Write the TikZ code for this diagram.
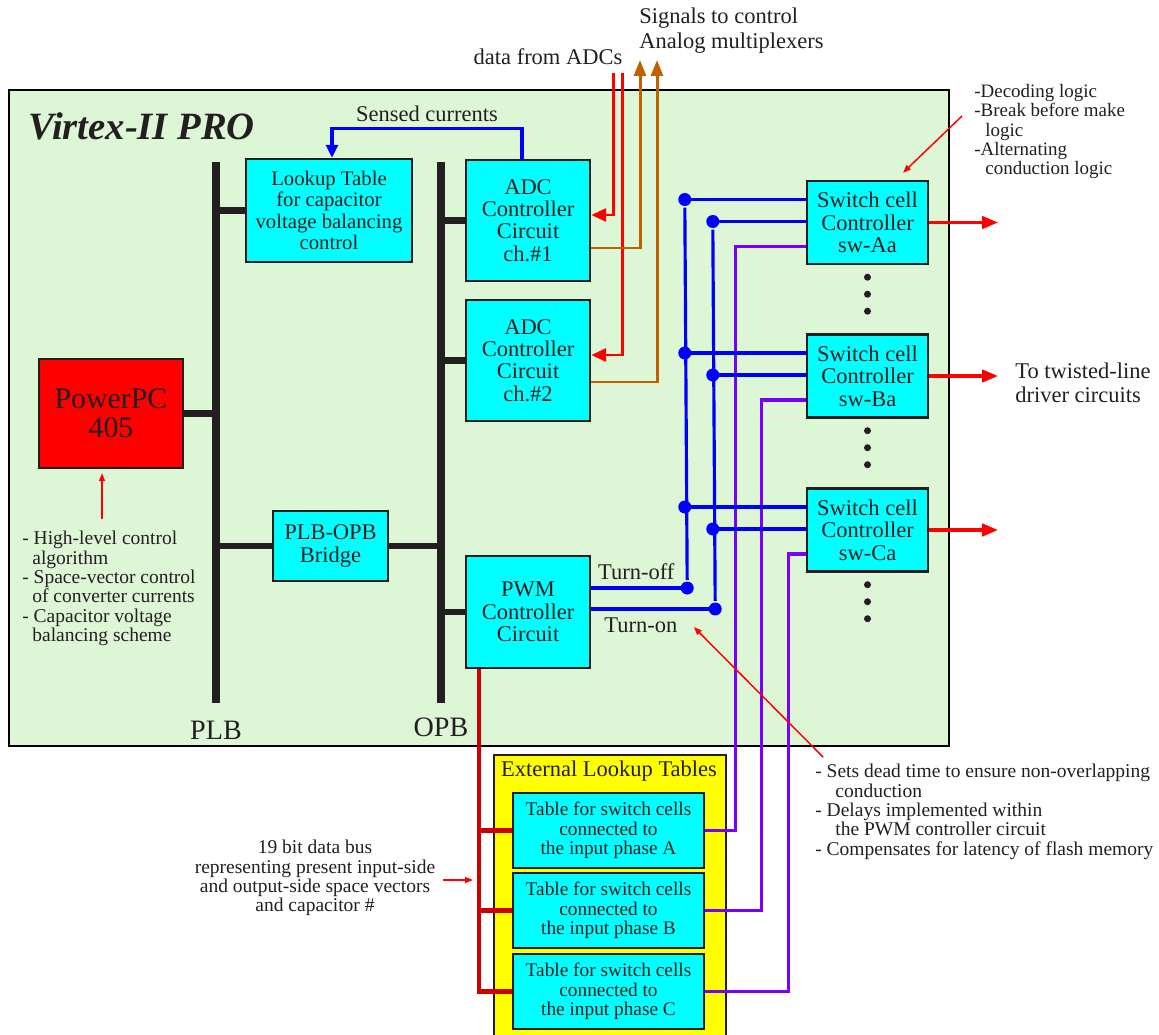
\documentclass[tikz,border=0pt]{standalone}
\usepackage{fontspec}
\setmainfont{Liberation Serif}
\usetikzlibrary{arrows.meta,calc,positioning}

\definecolor{chipgreen}{RGB}{221,246,214}
\definecolor{inkgray}{RGB}{35,31,32}
\definecolor{boxcyan}{RGB}{0,255,255}
\definecolor{pcred}{RGB}{255,0,0}
\definecolor{extyellow}{RGB}{255,255,0}
\definecolor{muxorange}{RGB}{192,96,0}
\definecolor{selviolet}{RGB}{120,0,255}
\definecolor{busred}{RGB}{204,0,0}

\begin{document}
\begin{tikzpicture}[
            x=0.02cm, y=-0.02cm,
            >=Latex,
            blk/.style={draw=inkgray, line width=1.4pt, fill=boxcyan, inner sep=0pt, align=center, text=inkgray, font=\fontsize{12.8}{12.7}\selectfont},
            tbl/.style={blk, minimum width=3.82cm, minimum height=1.5cm, font=\fontsize{11}{11}\selectfont},
            swc/.style={blk, minimum width=2.42cm, minimum height=1.66cm},
            bus/.style={line width=5.1pt, draw=inkgray},
            stub/.style={line width=3.8pt, draw=inkgray},
            adcflow/.style={line width=1.7pt, draw=pcred, -{Triangle[length=0.3cm, width=0.26cm]}},
            muxflow/.style={line width=1.7pt, draw=muxorange, -{Triangle[length=0.32cm, width=0.24cm]}},
            ctl/.style={line width=1.8pt, draw=blue},
            sel/.style={line width=1.8pt, draw=selviolet},
            lutbus/.style={line width=2.5pt, draw=busred},
            drive/.style={line width=2.2pt, draw=pcred, -{Triangle[length=0.32cm, width=0.24cm]}},
            note/.style={line width=0.85pt, draw=pcred, -{Triangle[length=0.16cm, width=0.12cm]}},
            dot/.style={circle, fill=blue, inner sep=0pt, minimum size=0.26cm},
            lab/.style={text=inkgray, inner sep=0pt, font=\fontsize{12.8}{12.8}\selectfont},
            txt/.style={text=inkgray, inner sep=0pt, align=left, font=\fontsize{11.1}{11}\selectfont}
        ]
        \useasboundingbox (0,0) rectangle (1159,1034);
        \fill[white] (0,0) rectangle (1159,1034);

        % chip
        \node[draw=black, line width=1.4pt, fill=chipgreen, minimum width=18.8cm, minimum height=13.12cm, inner sep=0pt] (chip) at (479,418) {};
        \node[anchor=base west, inner sep=0pt, text=inkgray, font=\fontsize{22}{22}\selectfont\bfseries\itshape] (chipname) at (28,139) {Virtex-II PRO};

        % busses
        \coordinate (plbtop) at (216,162);
        \coordinate (plbbot) at (216,703);
        \coordinate (opbtop) at (441,162);
        \coordinate (opbbot) at (441,703);
        \node[lab, font=\fontsize{16}{16}\selectfont] (plblab) at (216,730) {PLB};
        \node[lab, font=\fontsize{16}{16}\selectfont] (opblab) at (441,727) {OPB};

        % blocks on the busses
        \node[blk, fill=pcred, minimum width=2.88cm, minimum height=2.18cm, font=\fontsize{17}{16.5}\selectfont] (ppc) at (111,413.5) {PowerPC\\405};
        \node[blk, minimum width=3.32cm, minimum height=2.06cm, font=\fontsize{11.8}{12.2}\selectfont] (lut) at (329,210.5) {Lookup Table\\for capacitor\\voltage balancing\\control};
        \node[blk, minimum width=2.48cm, minimum height=2.42cm] (adcA) at (528,220.5) {ADC\\Controller\\Circuit\\ch.\#1};
        \node[blk, minimum width=2.48cm, minimum height=2.42cm] (adcB) at (528,360.5) {ADC\\Controller\\Circuit\\ch.\#2};
        \node[blk, minimum width=2.3cm, minimum height=1.4cm] (bridge) at (330.5,546) {PLB-OPB\\Bridge};
        \node[blk, minimum width=2.48cm, minimum height=2.24cm] (pwm) at (528,612) {PWM\\Controller\\Circuit};

        % switch cells
        \node[swc] (swA) at (867.5,222.5) {Switch cell\\Controller\\sw-Aa};
        \node[swc] (swB) at (867.5,376) {Switch cell\\Controller\\sw-Ba};
        \node[swc] (swC) at (867.5,530) {Switch cell\\Controller\\sw-Ca};

        % external tables
        \node[draw=inkgray, line width=1.1pt, fill=extyellow, minimum width=4.64cm, minimum height=6cm, inner sep=0pt, anchor=north west] (ext) at (493,754) {};
        \node[lab] (exttitle) at (609,771) {External Lookup Tables};
        \node[tbl] (tabA) at (608.5,830.5) {Table for switch cells\\connected to\\the input phase A};
        \node[tbl] (tabB) at (608.5,910.5) {Table for switch cells\\connected to\\the input phase B};
        \node[tbl] (tabC) at (608.5,991.5) {Table for switch cells\\connected to\\the input phase C};

        % bus lines
        \draw[stub] (ppc.east) -- (ppc.east -| plbtop);
        \draw[stub] (lut.west) -- (lut.west -| plbtop);
        \draw[stub] (bridge.west) -- (bridge.west -| plbtop);
        \draw[stub] (bridge.east) -- (bridge.east -| opbtop);
        \draw[stub] (adcA.west) -- (adcA.west -| opbtop);
        \draw[stub] (adcB.west) -- (adcB.west -| opbtop);
        \draw[stub] (pwm.west) -- (pwm.west -| opbtop);
        \draw[bus] (plbtop) -- (plbbot);
        \draw[bus] (opbtop) -- (opbbot);

        % ADC signals
        \coordinate (adcin1) at (613,73);
        \coordinate (adcin2) at (622,73);
        \coordinate (muxout1) at (640,60);
        \coordinate (muxout2) at (657,60);
        \node[lab] (adcdata) at (548,57) {data from ADCs};
        \node[lab, anchor=north west, align=left, font=\fontsize{12.8}{14.2}\selectfont] (muxsig) at (639,8) {Signals to control\\Analog multiplexers};
        \draw[adcflow] (adcin1) |- ([shift={(0,-5.5)}]adcA.east);
        \draw[adcflow] (adcin2) |- ([shift={(0,-5.5)}]adcB.east);
        \draw[muxflow] ([shift={(0,27.5)}]adcA.east) -| (muxout1);
        \draw[muxflow] ([shift={(0,21.5)}]adcB.east) -| (muxout2);
        \draw[ctl, -{Triangle[length=0.26cm, width=0.24cm]}] ([shift={(-6,0)}]adcA.north) |- node[lab, above=3pt, pos=0.75] (sensed) {Sensed currents} ([shift={(3,-29)}]lut.north) -- ([shift={(3,0)}]lut.north);

        % PWM to switch cells
        \draw[ctl] ([shift={(0,-24)}]pwm.east) -- node[lab, above=4pt, pos=0.47] (turnoff) {Turn-off} ++(96,0) node[dot] (offP) {};
        \draw[ctl] ([shift={(0,-3)}]pwm.east) -- node[lab, below=4pt, pos=0.4] (turnon) {Turn-on} ++(124,0) node[dot] (onP) {};
        \foreach \row/\sdx in {A/70, B/44, C/17} {
            \draw[ctl] ([shift={(0,-23)}]sw\row.west) -- ++(-121,0) node[dot] (off\row) {};
            \draw[ctl] ([shift={(0,-1)}]sw\row.west) -- ++(-93,0) node[dot] (on\row) {};
            \draw[sel] ([shift={(0,24)}]sw\row.west) -- ++(-\sdx,0) |- (tab\row.east);
            \draw[drive] (sw\row.east) -- ++(69,0);
            \foreach \k in {0,1,2}
                \fill[inkgray] ($(sw\row.south)+(0,{12+17*\k})$) circle (0.07cm);
        }
        \draw[ctl] (offA) -- (offP);
        \draw[ctl] (onA) -- (onP);
        \node[lab, anchor=north west, align=left, font=\fontsize{12.8}{13.6}\selectfont] (twisted) at (1015,363) {To twisted-line\\driver circuits};

        % lookup bus
        \coordinate (lbus) at ([shift={(-49,0)}]pwm.south);
        \draw[lutbus] (lbus) |- (tabC.west);
        \draw[lutbus] (tabA.west -| lbus) -- (tabA.west);
        \draw[lutbus] (tabB.west -| lbus) -- (tabB.west);

        % notes
        \node[txt, anchor=north west] (ppcnote) at (22,531) {- High-level control\\\hspace*{0.2cm}algorithm\\- Space-vector control\\\hspace*{0.2cm}of converter currents\\- Capacitor voltage\\\hspace*{0.2cm}balancing scheme};
        \node[txt, anchor=north west, font=\fontsize{10.8}{11}\selectfont] (swnote) at (974,84) {-Decoding logic\\-Break before make\\\hspace*{0.22cm}logic\\-Alternating\\\hspace*{0.22cm}conduction logic};
        \node[txt, anchor=north west] (pwmnote) at (815,764) {- Sets dead time to ensure non-overlapping\\\hspace*{0.4cm}conduction\\- Delays implemented within\\\hspace*{0.4cm}the PWM controller circuit\\- Compensates for latency of flash memory};
        \node[txt, align=center, anchor=north] (busnote) at (315,840) {19 bit data bus\\representing present input-side\\and output-side space vectors\\and capacitor \#};

        \coordinate (ppcnotetail) at (102,519);
        \coordinate (busnotetail) at (443,880);
        \coordinate (swnotetail) at (962,116);
        \coordinate (pwmnotetail) at (823,757);
        \draw[note] (ppcnotetail) -- ([shift={(-9,4)}]ppc.south);
        \draw[note] (busnotetail) -- ($(lbus |- busnotetail)+(-6,0)$);
        \draw[note] (swnotetail) -- ([shift={(35.5,-7)}]swA.north);
        \draw[note] (pwmnotetail) -- ([shift={(15,2)}]turnon.east);

    \end{tikzpicture}
\end{document}
